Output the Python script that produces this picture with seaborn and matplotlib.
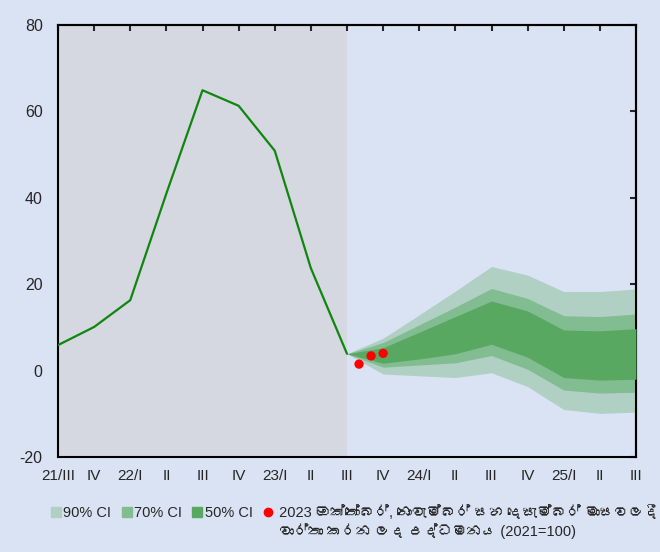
import matplotlib
matplotlib.use('Agg')
import matplotlib.pyplot as plt
import seaborn as sns
import pandas as pd
from matplotlib import font_manager
from matplotlib.ft2font import FT2Font
from matplotlib.patches import Patch
from matplotlib.lines import Line2D

# quarter labels, 21/III .. 25/III
quarters = ['21/III', 'IV', '22/I', 'II', 'III', 'IV', '23/I', 'II', 'III',
            'IV', '24/I', 'II', 'III', 'IV', '25/I', 'II', 'III']

# actual inflation (21/III .. 23/III)
actual = [5.9, 10.1, 16.3, 41.0, 64.9, 61.3, 50.9, 23.7, 3.9]

# projection bands (23/III .. 25/III)
ci90_hi = [3.9, 7.5, 12.9, 18.4, 24.1, 22.1, 18.3, 18.3, 18.9]
ci70_hi = [3.9, 6.5, 10.6, 14.7, 19.0, 16.7, 12.7, 12.5, 13.1]
ci50_hi = [3.9, 5.3, 8.9, 12.5, 16.1, 13.8, 9.4, 9.2, 9.7]
ci50_lo = [3.9, 1.7, 2.7, 3.9, 6.1, 3.1, -1.6, -2.2, -2.0]
ci70_lo = [3.9, 0.8, 1.3, 1.8, 3.5, 0.3, -4.5, -5.2, -5.0]
ci90_lo = [3.9, -0.8, -1.2, -1.6, -0.5, -3.7, -9.0, -9.9, -9.6]

# monthly observations Oct, Nov, Dec 2023
months_pos = [8 + 1/3, 8 + 2/3, 9]
months_val = [1.5, 3.4, 4.0]

legend_labels = ['90% CI', '70% CI', '50% CI',
                 ' 2023 ඔක්තෝබර්, නොවැම්බර් සහ දෙසැම්බර් මාසවලදී']
legend_line2 = ' වාර්තා කරන ලද උද්ධමනය (2021=100)'


def font_with(ch):
    for f in font_manager.fontManager.ttflist:
        try:
            if ord(ch) in FT2Font(f.fname).get_charmap():
                return f.name
        except Exception:
            pass
    return None


sns.set_style('white')
sinhala = font_with('ක')
fams = ['Liberation Sans']
if sinhala:
    fams.append(sinhala)
fams.append('DejaVu Sans')
plt.rcParams['font.family'] = fams
plt.rcParams['axes.unicode_minus'] = False

bg = '#dae3f3'
fig = plt.figure(figsize=(6.6, 5.52), dpi=100, facecolor=bg)
ax = fig.add_axes([58/660, 1 - 457/552, (636 - 58)/660, (457 - 25)/552])
ax.set_facecolor(bg)

ax.axvspan(0, 8, color='#d5d8e0', lw=0, zorder=0)

proj_x = list(range(8, 17))
ax.fill_between(proj_x, ci90_lo, ci90_hi, color='#afd0c3', lw=0, zorder=1)
ax.fill_between(proj_x, ci70_lo, ci70_hi, color='#82bc91', lw=0, zorder=2)
ax.fill_between(proj_x, ci50_lo, ci50_hi, color='#58a862', lw=0, zorder=3)

line_df = pd.DataFrame({'x': range(len(actual)), 'y': actual})
sns.lineplot(data=line_df, x='x', y='y', color='#0f870f', lw=1.6, ax=ax, zorder=4)

pts = pd.DataFrame({'x': months_pos, 'y': months_val})
sns.scatterplot(data=pts, x='x', y='y', color='#ff0000', s=45, edgecolor='none',
                ax=ax, zorder=5)

ax.set_xlim(0, 16)
ax.set_ylim(-20, 80)
ax.set_xticks(range(17))
ax.set_xticklabels(quarters, fontsize=11)
ax.set_yticks(range(-20, 81, 20))
ax.tick_params(axis='y', labelsize=11.5, direction='out', length=4, width=1.5, color='black', pad=7)
ax.tick_params(axis='x', direction='out', length=4, width=1.5, color='black', pad=5)
ax.set_xlabel('')
ax.set_ylabel('')
for s in ax.spines.values():
    s.set_linewidth(1.5)
    s.set_color('black')

top = ax.secondary_xaxis('top')
top.set_xticks(range(17))
top.tick_params(direction='in', length=4, width=1.5, labeltop=False)
top.spines['top'].set_linewidth(1.5)
right = ax.secondary_yaxis('right')
right.set_yticks(range(-20, 81, 20))
right.tick_params(direction='in', length=4, width=1.5, labelright=False)
right.spines['right'].set_linewidth(1.5)

handles = [Patch(color='#afd0c3'), Patch(color='#82bc91'), Patch(color='#58a862'),
           Line2D([], [], marker='o', ls='', color='#ff0000', markersize=6)]
leg = fig.legend(handles, legend_labels, loc='center left', bbox_to_anchor=(51/660, 1 - 513/552),
                 ncol=4, frameon=False, handlelength=0.7, handleheight=0.7,
                 handletextpad=0.15, columnspacing=0.7, borderpad=0, borderaxespad=0,
                 prop={'family': fams, 'size': 10.5})

# second line of the last legend label, aligned under the first
fig.canvas.draw()
bb = leg.get_texts()[3].get_window_extent()
fig.text(bb.x0 / fig.bbox.width, 1 - 531/552, legend_line2, fontsize=10.5,
         family=fams, ha='left', va='center')

fig.savefig('out.png', dpi=100, facecolor=bg)
